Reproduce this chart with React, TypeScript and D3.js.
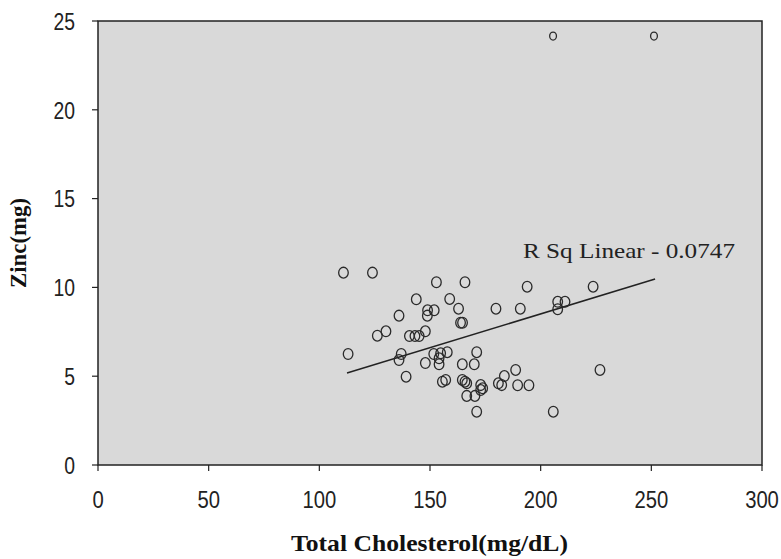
import React from "react";
import * as d3 from "d3";

const cholesterol = [
  110.9, 124.0, 152.9, 165.8, 143.8, 158.9, 162.9, 148.9, 151.9, 148.8,
  136.0, 163.8, 164.7, 147.9, 130.1, 126.2, 140.7, 143.2, 145.1, 193.9,
  223.7, 179.8, 190.8, 207.7, 211.0, 207.7, 113.0, 137.0, 136.0, 151.7,
  154.8, 157.8, 154.1, 154.1, 147.9, 164.6, 139.2, 155.6, 157.1, 164.6,
  165.8, 166.6, 166.6, 171.1, 170.0, 188.7, 226.8, 183.6, 180.9, 182.4,
  189.6, 194.7, 172.9, 173.8, 172.9, 170.3, 171.1, 205.7,
];
const zinc = [
  10.83, 10.83, 10.29, 10.29, 9.33, 9.35, 8.80, 8.71, 8.71, 8.41,
  8.41, 8.01, 8.01, 7.53, 7.53, 7.28, 7.26, 7.26, 7.26, 10.04,
  10.04, 8.80, 8.80, 9.19, 9.19, 8.77, 6.25, 6.25, 5.91, 6.25,
  6.29, 6.35, 6.01, 5.67, 5.74, 5.67, 4.97, 4.69, 4.79, 4.79,
  4.69, 4.60, 3.89, 6.35, 5.67, 5.35, 5.35, 5.01, 4.60, 4.50,
  4.49, 4.49, 4.50, 4.32, 4.22, 3.89, 3.00, 3.00,
];
const outlierCholesterol = [205.6, 251.2];
const outlierZinc = [24.15, 24.15];

const fitX = [112.5, 251.7];
const fitY = [5.18, 10.47];

const xTicks = [0, 50, 100, 150, 200, 250, 300];
const yTicks = [0, 5, 10, 15, 20, 25];
const rSqLabel = "R Sq Linear  -  0.0747";
const xTitle = "Total Cholesterol(mg/dL)";
const yTitle = "Zinc(mg)";

export default function App() {
  const left = 98, right = 762, top = 21, bottom = 465;
  const x = d3.scaleLinear().domain([0, 300]).range([left, right]);
  const y = d3.scaleLinear().domain([0, 25]).range([bottom, top]);
  const line = d3.line<number>().x((d, i) => x(fitX[i])).y((d, i) => y(fitY[i]));
  const tickFont = "'Liberation Sans', 'DejaVu Sans', sans-serif";
  const serif = "'Liberation Serif', 'DejaVu Serif', serif";

  return (
    <svg width={781} height={559} style={{ position: "absolute", left: 0, top: 0, background: "#fff" }}>
      <rect x={left} y={top} width={right - left} height={bottom - top} fill="#d9d9d9" stroke="#222" strokeWidth={1.5} />
      {yTicks.map((t) => (
        <g key={"y" + t}>
          <line x1={left - 6} x2={left} y1={y(t)} y2={y(t)} stroke="#222" strokeWidth={1.2} />
          <text transform={`translate(${left - 23},${y(t)}) scale(0.88,1.12)`} dy="0.36em" textAnchor="end" fontFamily={tickFont} fontSize={22} fill="#222">{t}</text>
        </g>
      ))}
      {xTicks.map((t) => (
        <g key={"x" + t}>
          <line x1={x(t)} x2={x(t)} y1={bottom} y2={bottom + 6} stroke="#222" strokeWidth={1.2} />
          <text transform={`translate(${x(t)},${bottom + 34}) scale(0.92,1.12)`} dy="0.36em" textAnchor="middle" fontFamily={tickFont} fontSize={22} fill="#222">{t}</text>
        </g>
      ))}
      <path d={line(fitX) || ""} fill="none" stroke="#222" strokeWidth={1.5} />
      {cholesterol.map((c, i) => (
        <ellipse key={"p" + i} cx={x(c)} cy={y(zinc[i])} rx={4.8} ry={5.4} fill="none" stroke="#2a2a2a" strokeWidth={1.3} />
      ))}
      {outlierCholesterol.map((c, i) => (
        <ellipse key={"o" + i} cx={x(c)} cy={y(outlierZinc[i])} rx={3.4} ry={4} fill="none" stroke="#2a2a2a" strokeWidth={1.3} />
      ))}
      <text x={523} y={258} fontFamily={serif} fontSize={21} fill="#222" textLength={212} lengthAdjust="spacingAndGlyphs">{rSqLabel}</text>
      <text x={(left + right) / 2 - 0.5} y={551} textAnchor="middle" fontFamily={serif} fontWeight="bold" fontSize={23} fill="#111" textLength={277} lengthAdjust="spacingAndGlyphs">{xTitle}</text>
      <text transform={`translate(26,${(top + bottom) / 2}) rotate(-90)`} textAnchor="middle" fontFamily={serif} fontWeight="bold" fontSize={23} fill="#111" textLength={90} lengthAdjust="spacingAndGlyphs">{yTitle}</text>
    </svg>
  );
}
